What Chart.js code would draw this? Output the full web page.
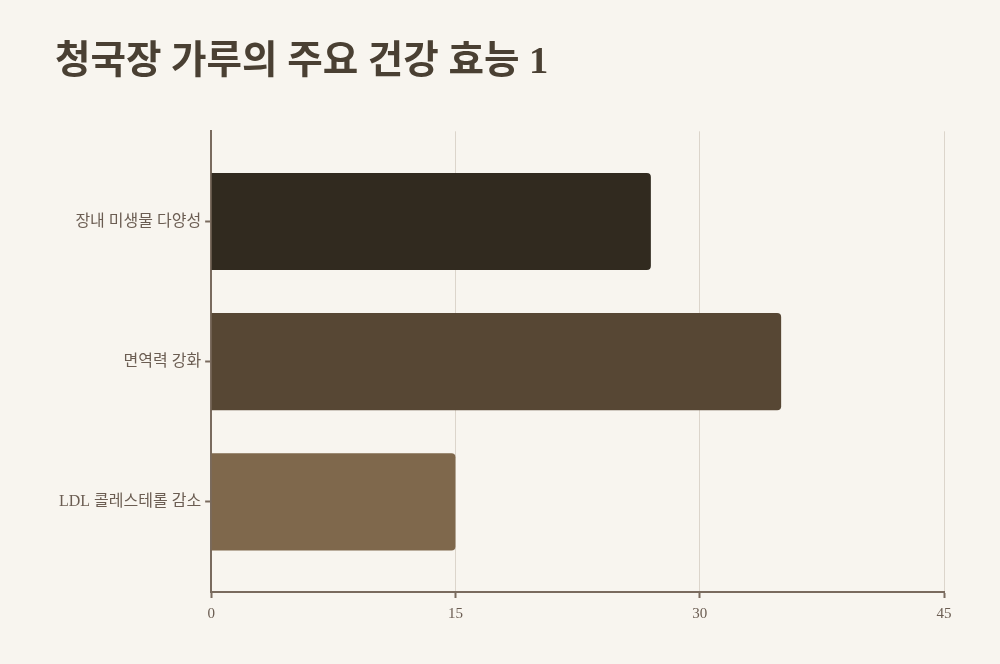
<!DOCTYPE html>
<html>
<head>
<meta charset="utf-8">
<script src="https://cdn.jsdelivr.net/npm/chart.js@4"></script>
<style>
  html, body { margin: 0; padding: 0; background: #f8f5ef; }
  #wrap { width: 1000px; height: 664px; }
</style>
</head>
<body>
<div id="wrap"><canvas id="healthChart"></canvas></div>
<script>
const categories = ['장내 미생물 다양성', '면역력 강화', 'LDL 콜레스테롤 감소'];
const values = [27, 35, 15];
const barColors = ['#312a1f', '#574734', '#7f684c'];
const xTicks = [0, 15, 30, 45];
const titleText = '청국장 가루의 주요 건강 효능 1';

const serif = "'Liberation Serif', 'Noto Sans CJK KR', serif";
const axisColor = '#7a6b5e';

function initChart() {
    const ctx = document.getElementById('healthChart').getContext('2d');
    // y is a linear index axis so the bands can carry some outer padding
    const points = values.map((v, i) => ({ x: v, y: i }));
    new Chart(ctx, {
        type: 'bar',
        data: {
            datasets: [{
                data: points,
                backgroundColor: barColors,
                borderRadius: 4,
                borderSkipped: 'start',
                barPercentage: 0.9,
                categoryPercentage: 0.77
            }]
        },
        options: {
            indexAxis: 'y',
            responsive: true,
            maintainAspectRatio: false,
            animation: false,
            layout: { padding: { left: 55, right: 56, top: 0, bottom: 34 } },
            plugins: {
                legend: { display: false },
                tooltip: { enabled: false },
                title: {
                    display: true,
                    text: titleText,
                    align: 'start',
                    color: '#4a4033',
                    font: { family: serif, size: 38.6, weight: 'bold' },
                    padding: { top: 40, bottom: 45 }
                }
            },
            scales: {
                x: {
                    type: 'linear',
                    min: 0,
                    max: 45,
                    afterBuildTicks: axis => { axis.ticks = xTicks.map(v => ({ value: v })); },
                    border: { color: axisColor, width: 2 },
                    grid: { color: '#dcd5cb', lineWidth: 1, tickColor: axisColor, tickLength: 6, tickWidth: 2 },
                    ticks: { color: '#6b5d52', font: { family: serif, size: 15 }, padding: 7 }
                },
                y: {
                    type: 'linear',
                    reverse: true,
                    offset: false,
                    min: -0.643,
                    max: categories.length - 1 + 0.643,
                    afterBuildTicks: axis => { axis.ticks = categories.map((c, i) => ({ value: i })); },
                    border: { color: axisColor, width: 2 },
                    grid: { offset: false, drawOnChartArea: false, tickColor: axisColor, tickLength: 6, tickWidth: 2 },
                    ticks: {
                        color: '#6b5d52',
                        font: { family: serif, size: 16 },
                        padding: 4,
                        callback: v => categories[v]
                    }
                }
            }
        }
    });
}

if (typeof Chart !== 'undefined') {
    initChart();
} else {
    window.addEventListener('load', initChart);
}
</script>
</body>
</html>
